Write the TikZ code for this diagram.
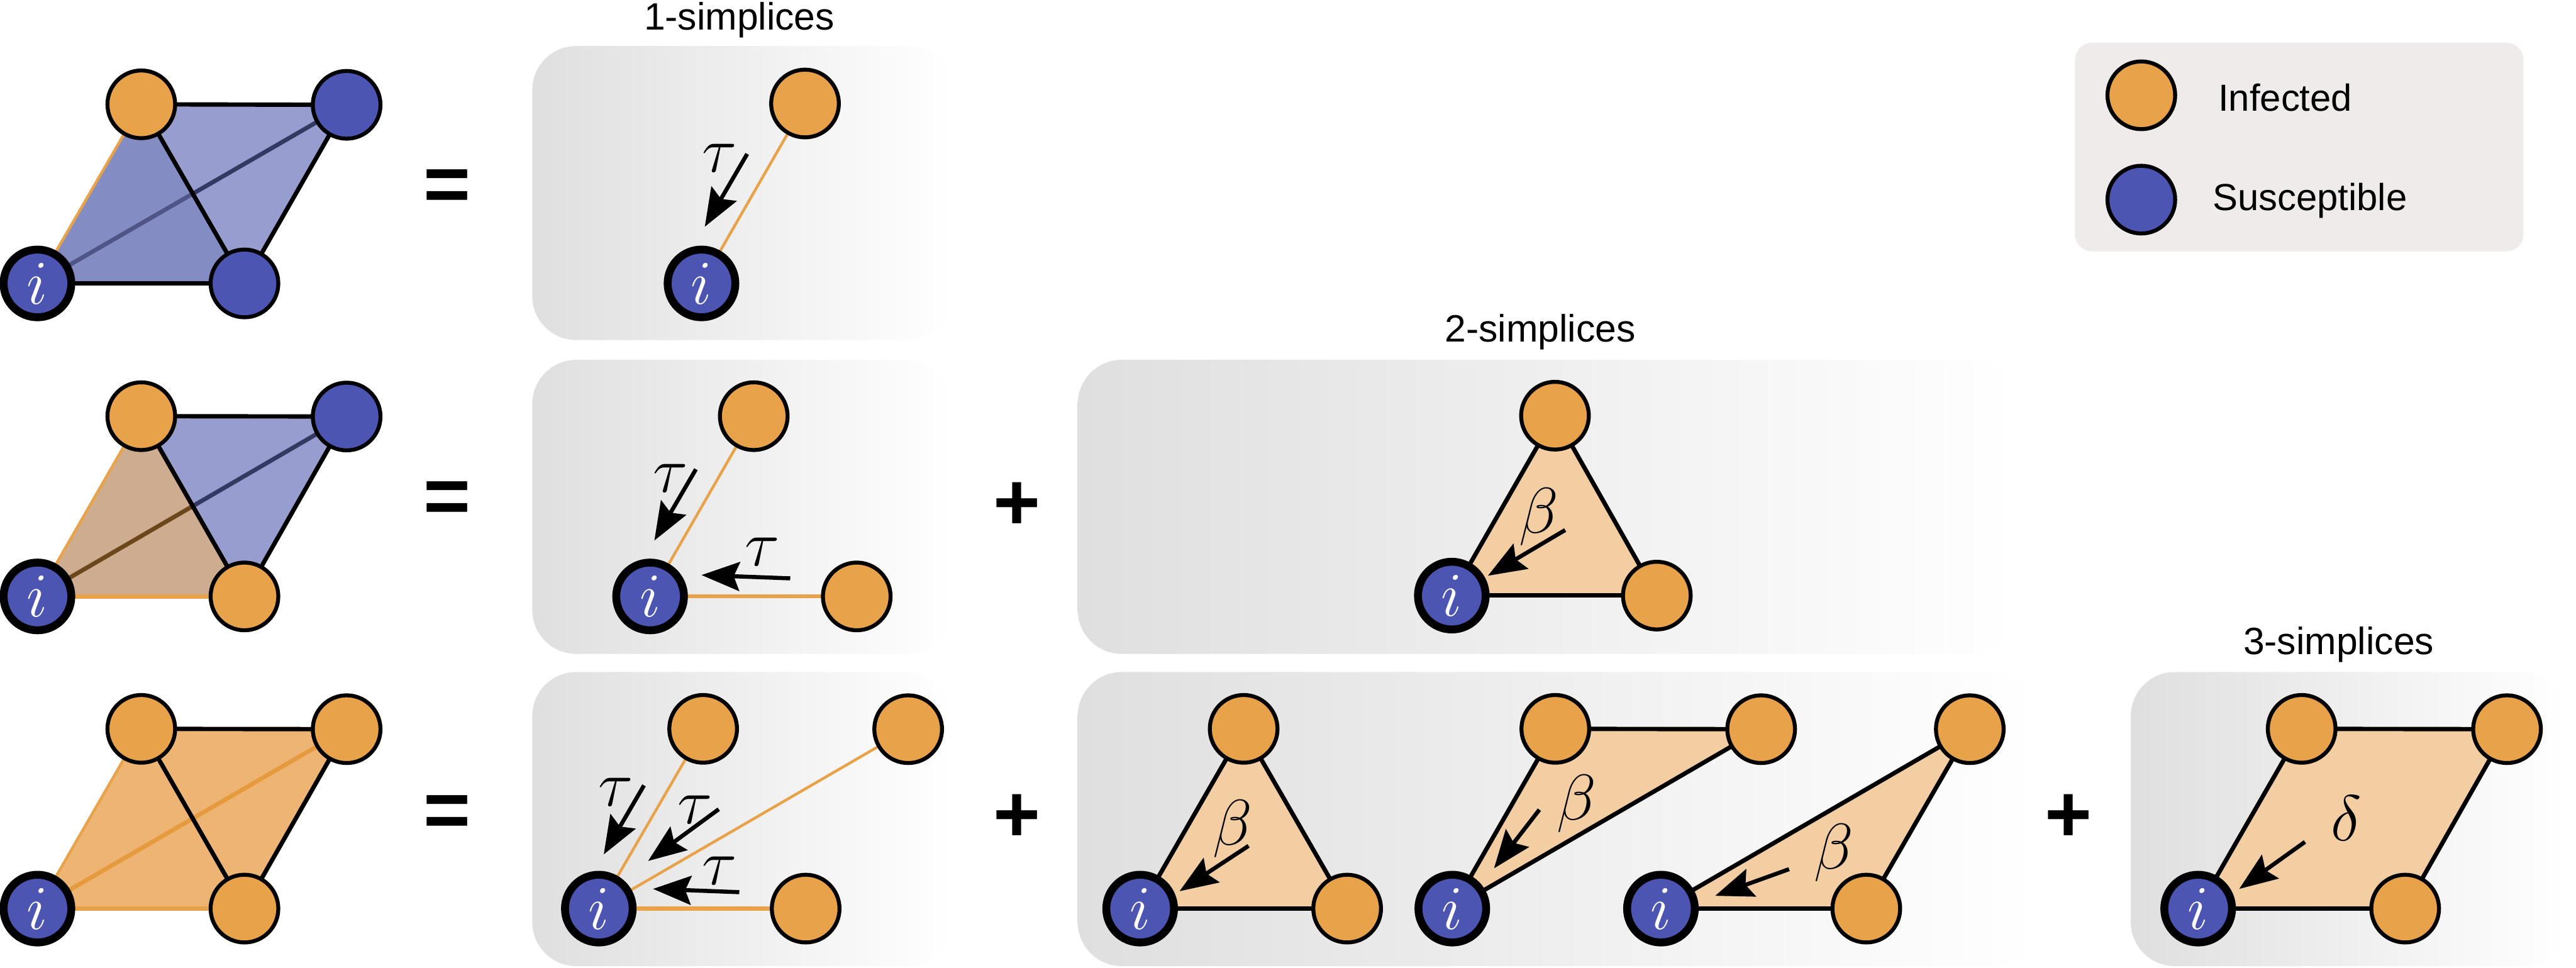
\documentclass[tikz,border=0pt]{standalone}
\usepackage{fix-cm}
\usepackage{fontspec}
\setmainfont{Liberation Sans}
\usetikzlibrary{arrows.meta}
\usetikzlibrary{backgrounds}
\definecolor{infected}{HTML}{E8A249}
\definecolor{susceptible}{HTML}{4C55B2}
\definecolor{bluelight}{HTML}{979ECF}
\definecolor{bluedark}{HTML}{838CC3}
\definecolor{tan}{HTML}{CEAC8F}
\definecolor{orangemid}{HTML}{EEB473}
\definecolor{orangeline}{HTML}{E59A3D}
\definecolor{peach}{HTML}{F4CEA3}
\definecolor{panelgray}{HTML}{DFDFDF}
\definecolor{legendgray}{HTML}{F0EBEB}
\definecolor{brownline}{HTML}{6B471B}
\definecolor{navyline}{HTML}{323A62}
\definecolor{slateline}{HTML}{4F5587}
\tikzset{%
	>={Stealth[length=5.8mm,width=4.4mm,inset=0.9mm]},
	% Specifications for style of nodes:
	base/.style = {circle, draw=black, line width=0.6mm, inner sep=0pt, outer sep=0pt, minimum size=10.3mm},
	inf/.style = {base, fill=infected},
	sus/.style = {base, fill=susceptible},
	focus/.style = {sus, line width=1.2mm, text=white, font=\fontsize{27}{29}\selectfont},
	panel/.style = {rectangle, rounded corners=6.7mm, left color=panelgray, right color=white, inner sep=0pt, minimum height=44.75mm},
	legendbox/.style = {rectangle, rounded corners=2.6mm, fill=legendgray, inner sep=0pt},
	rate/.style = {font=\fontsize{28}{30}\selectfont, inner sep=0pt},
	opsign/.style = {font=\fontsize{35}{38}\selectfont\bfseries, inner sep=0pt},
	caption/.style = {font=\fontsize{16.5}{18}\selectfont, inner sep=0pt},
	blackedge/.style = {draw=black, line width=0.66mm},
	orangeedge/.style = {draw=infected, line width=0.42mm},
	rateedge/.style = {line width=0.62mm, ->},
}
\begin{document}
\begin{tikzpicture}[x=0.25mm,y=-0.25mm]
		\useasboundingbox (0,0) rectangle (1568,589);

		% left column
		\node (R1I) [focus] at (22.8,172.5) {$i$};
		\node (R1T) [inf] at (86,63.5) {};
		\node (R1R) [sus] at (211,63.8) {};
		\node (R1B) [sus] at (148.8,172.5) {};

		\node (R2I) [focus] at (22.8,363) {$i$};
		\node (R2T) [inf] at (86,253.3) {};
		\node (R2R) [sus] at (211,253.5) {};
		\node (R2B) [inf] at (148.8,363) {};

		\node (R3I) [focus] at (22.8,553) {$i$};
		\node (R3T) [inf] at (86,443.6) {};
		\node (R3R) [inf] at (211,443.8) {};
		\node (R3B) [inf] at (148.8,553) {};

		\node (Eq1) [opsign] at (272,116) {=};
		\node (Eq2) [opsign] at (272,306) {=};
		\node (Eq3) [opsign] at (272,497) {=};
		\node (Plus2) [opsign] at (619,308) {+};
		\node (Plus3) [opsign] at (619,498) {+};
		\node (Plus4) [opsign] at (1259,498) {+};

		% 1-simplices
		\node (E1I) [focus] at (427,172.5) {$i$};
		\node (E1T) [inf] at (490,63) {};
		\node (E2I) [focus] at (395.7,363) {$i$};
		\node (E2T) [inf] at (458.8,253.3) {};
		\node (E2B) [inf] at (521.5,363) {};
		\node (E3I) [focus] at (364.5,553) {$i$};
		\node (E3T) [inf] at (428,443.6) {};
		\node (E3R) [inf] at (552.8,443.8) {};
		\node (E3B) [inf] at (490.4,553) {};

		% 2-simplices
		\node (F2I) [focus] at (883.7,362.5) {$i$};
		\node (F2T) [inf] at (946.5,253) {};
		\node (F2B) [inf] at (1008.5,362.5) {};
		\node (FaI) [focus] at (694,553) {$i$};
		\node (FaT) [inf] at (757,443.6) {};
		\node (FaB) [inf] at (820,553) {};
		\node (FbI) [focus] at (884,553) {$i$};
		\node (FbT) [inf] at (946.7,443.6) {};
		\node (FbR) [inf] at (1072,443.8) {};
		\node (FcI) [focus] at (1011,553) {$i$};
		\node (FcR) [inf] at (1199,443.8) {};
		\node (FcB) [inf] at (1136,553) {};

		% 3-simplices
		\node (GI) [focus] at (1338,553) {$i$};
		\node (GT) [inf] at (1401,443.6) {};
		\node (GR) [inf] at (1526,443.8) {};
		\node (GB) [inf] at (1464,553) {};

		\node (Cap1) [caption] at (450,12) {1-simplices};
		\node (Cap2) [caption] at (937.5,202) {2-simplices};
		\node (Cap3) [caption] at (1423.5,392.3) {3-simplices};

		% legend
		\node (LegInf) [inf] at (1303.4,58) {};
		\node (LegSus) [sus] at (1303.4,121.5) {};
		\node (LabInf) [font=\fontsize{16.3}{18}\selectfont, inner sep=0pt] at (1391,59.5) {Infected};
		\node (LabSus) [font=\fontsize{16.3}{18}\selectfont, inner sep=0pt] at (1406,122) {Susceptible};

		\begin{scope}[on background layer]
		\node (Legend) [legendbox, minimum width=68.25mm, minimum height=31.75mm] at (1399.5,89.5) {};
		\node (Panel1) [panel, minimum width=64mm] at (452,117.5) {};
		\node (Panel2) [panel, minimum width=64mm] at (452,308.5) {};
		\node (Panel3) [panel, minimum width=64mm] at (452,498.5) {};
		\node (Panel4) [panel, minimum width=143mm] at (942,308.5) {};
		\node (Panel5) [panel, minimum width=146mm] at (948,498.5) {};
		\node (Panel6) [panel, minimum width=66.5mm] at (1430,498.5) {};

		\coordinate (X1) at (intersection cs: first line={(R1I.center)--(R1R.center)}, second line={(R1T.center)--(R1B.center)});
		\coordinate (X2) at (intersection cs: first line={(R2I.center)--(R2R.center)}, second line={(R2T.center)--(R2B.center)});

		% first row, left
		\fill [bluelight] (R1T.center) -- (R1R.center) -- (R1B.center) -- cycle;
		\fill [bluedark] (R1I.center) -- (R1T.center) -- (R1B.center) -- cycle;
		\draw [orangeedge] (R1I) -- (R1T);
		\draw [draw=slateline, line width=0.65mm] (R1I) -- (X1);
		\draw [draw=navyline, line width=0.65mm] (X1) -- (R1R);
		\draw [blackedge] (R1I) -- (R1B);
		\draw [blackedge] (R1T) -- (R1R);
		\draw [blackedge] (R1T) -- (R1B);
		\draw [blackedge] (R1R) -- (R1B);

		% second row, left
		\fill [bluelight] (R2T.center) -- (R2R.center) -- (R2B.center) -- cycle;
		\fill [tan] (R2I.center) -- (R2T.center) -- (R2B.center) -- cycle;
		\draw [orangeedge] (R2I) -- (R2T);
		\draw [orangeedge, line width=0.66mm] (R2I) -- (R2B);
		\draw [draw=navyline, line width=0.65mm] (X2) -- (R2R);
		\draw [draw=brownline, line width=0.65mm] (R2I) -- (X2);
		\draw [blackedge] (R2T) -- (R2R);
		\draw [blackedge] (R2T) -- (R2B);
		\draw [blackedge] (R2R) -- (R2B);

		% third row, left
		\fill [orangemid] (R3I.center) -- (R3T.center) -- (R3R.center) -- (R3B.center) -- cycle;
		\draw [orangeedge] (R3I) -- (R3T);
		\draw [orangeedge, line width=0.66mm] (R3I) -- (R3B);
		\draw [draw=orangeline, line width=0.65mm] (R3I) -- (R3R);
		\draw [blackedge] (R3T) -- (R3R);
		\draw [blackedge] (R3T) -- (R3B);
		\draw [blackedge] (R3R) -- (R3B);

		% 1-simplices
		\draw [orangeedge] (E1I) -- (E1T);
		\draw [orangeedge] (E2I) -- (E2T);
		\draw [orangeedge, line width=0.6mm] (E2I) -- (E2B);
		\draw [orangeedge] (E3I) -- (E3T);
		\draw [orangeedge] (E3I) -- (E3R);
		\draw [orangeedge, line width=0.6mm] (E3I) -- (E3B);

		% 2-simplices
		\fill [peach] (F2I.center) -- (F2T.center) -- (F2B.center) -- cycle;
		\draw [blackedge] (F2I) -- (F2T);
		\draw [blackedge] (F2T) -- (F2B);
		\draw [blackedge] (F2I) -- (F2B);

		\fill [peach] (FaI.center) -- (FaT.center) -- (FaB.center) -- cycle;
		\draw [blackedge] (FaI) -- (FaT);
		\draw [blackedge] (FaT) -- (FaB);
		\draw [blackedge] (FaI) -- (FaB);

		\fill [peach] (FbI.center) -- (FbT.center) -- (FbR.center) -- cycle;
		\draw [blackedge] (FbI) -- (FbT);
		\draw [blackedge] (FbT) -- (FbR);
		\draw [blackedge] (FbI) -- (FbR);

		\fill [peach] (FcI.center) -- (FcR.center) -- (FcB.center) -- cycle;
		\draw [blackedge] (FcI) -- (FcR);
		\draw [blackedge] (FcR) -- (FcB);
		\draw [blackedge] (FcI) -- (FcB);

		% 3-simplices
		\fill [peach] (GI.center) -- (GT.center) -- (GR.center) -- (GB.center) -- cycle;
		\draw [blackedge] (GI) -- (GT);
		\draw [blackedge] (GT) -- (GR);
		\draw [blackedge] (GR) -- (GB);
		\draw [blackedge] (GI) -- (GB);
		\end{scope}

		% rates
		\node (Tau1) [rate] at (438,96.4) {$\tau$};
		\coordinate (T1a) at (454.8,93.7);
		\coordinate (T1b) at (429,138);
		\draw [rateedge] (T1a) -- (T1b);

		\node (Tau2) [rate] at (408,291) {$\tau$};
		\coordinate (T2a) at (423.6,285.6);
		\coordinate (T2b) at (398.3,329);
		\draw [rateedge] (T2a) -- (T2b);
		\node (Tau3) [rate] at (464,336) {$\tau$};
		\coordinate (T3a) at (481,352);
		\coordinate (T3b) at (427,350);
		\draw [rateedge] (T3a) -- (T3b);

		\node (Tau4) [rate] at (375,482) {$\tau$};
		\coordinate (T4a) at (392,478);
		\coordinate (T4b) at (367.5,520);
		\draw [rateedge] (T4a) -- (T4b);
		\node (Tau5) [rate] at (423,493) {$\tau$};
		\coordinate (T5a) at (437.5,492.5);
		\coordinate (T5b) at (394.5,524);
		\draw [rateedge] (T5a) -- (T5b);
		\node (Tau6) [rate] at (438,530) {$\tau$};
		\coordinate (T6a) at (450,543);
		\coordinate (T6b) at (397.5,541);
		\draw [rateedge] (T6a) -- (T6b);

		\node (Beta1) [rate] at (936.8,314.6) {$\beta$};
		\coordinate (B1a) at (952.7,322.6);
		\coordinate (B1b) at (905.7,350.4);
		\draw [rateedge] (B1a) -- (B1b);
		\node (Beta2) [rate] at (750.4,504.4) {$\beta$};
		\coordinate (B2a) at (760,514.8);
		\coordinate (B2b) at (718,542.4);
		\draw [rateedge] (B2a) -- (B2b);
		\node (Beta3) [rate] at (959.6,489) {$\beta$};
		\coordinate (B3a) at (937,492.8);
		\coordinate (B3b) at (909.4,528.5);
		\draw [rateedge] (B3a) -- (B3b);
		\node (Beta4) [rate] at (1116,519) {$\beta$};
		\coordinate (B4a) at (1089,529);
		\coordinate (B4b) at (1044,545.2);
		\draw [rateedge] (B4a) -- (B4b);

		\node (Delta1) [rate] at (1428,497.8) {$\delta$};
		\coordinate (D1a) at (1403,512.4);
		\coordinate (D1b) at (1363,541);
		\draw [rateedge] (D1a) -- (D1b);
\end{tikzpicture}
\end{document}
